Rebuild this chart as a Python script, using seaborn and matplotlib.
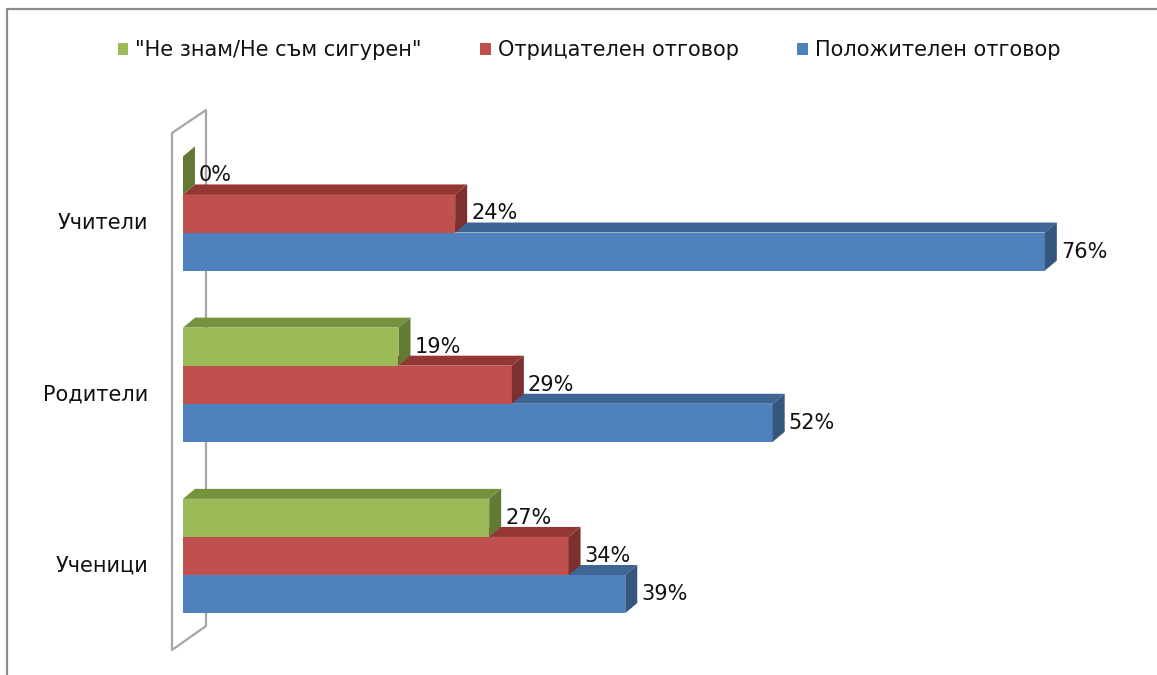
import numpy as np
import pandas as pd
import matplotlib
matplotlib.use("Agg")
import matplotlib.pyplot as plt
import seaborn as sns
from matplotlib.patches import Polygon
from matplotlib.lines import Line2D
import matplotlib.transforms as mtransforms

# ---- data ----
groups = ["Учители", "Родители", "Ученици"]
series = ['"Не знам/Не съм сигурен"', "Отрицателен отговор", "Положителен отговор"]
unsure = [0, 19, 27]
negative = [24, 29, 34]
positive = [76, 52, 39]

front_colors = ["#9BBB59", "#C0504D", "#4F81BD"]
top_colors = ["#76923C", "#943634", "#3E6594"]
side_colors = ["#637A35", "#7E302E", "#34567F"]

df = pd.DataFrame({
    "group": groups * 3,
    "series": np.repeat(series, 3),
    "value": unsure + negative + positive,
})

sns.set_theme(style="white")
plt.rcParams["font.family"] = ["DejaVu Sans"]
plt.rcParams["text.color"] = "#111111"

W, H = 1157, 675
fig = plt.figure(figsize=(W / 100, H / 100), dpi=100)
x0px, pxper, xmax = 183, 11.34, 85
top_px, bot_px = 93.6, 667.3
ax = fig.add_axes([x0px / W, 1 - bot_px / H, xmax * pxper / W, (bot_px - top_px) / H])
ax.patch.set_visible(False)

sns.barplot(data=df, y="group", x="value", hue="series", order=groups,
            hue_order=series, palette=front_colors, orient="h", width=0.667,
            gap=0, saturation=1, ax=ax, legend=True, edgecolor="none",
            linewidth=0, errorbar=None)
ax.set_xlim(0, xmax)
ax.set_ylim(2.65, -0.7)
ax.set_xticks([])
ax.set_yticks([])
ax.set_xlabel("")
ax.set_ylabel("")
sns.despine(ax=ax, left=True, bottom=True)

# ---- pseudo-3D depth faces ----
dx, dy = 12, 10
inv = ax.transData.inverted()
for i, cont in enumerate(ax.containers):
    z = 4 - i
    for bar in cont:
        bar.set_zorder(z)
        x, y, w, h = bar.get_x(), bar.get_y(), bar.get_width(), bar.get_height()
        tl, tr, br = ax.transData.transform([[x, y], [x + w, y], [x + w, y + h]])
        off = np.array([dx, dy])
        top = inv.transform([tl, tr, tr + off, tl + off])
        side = inv.transform([tr, br, br + off, tr + off])
        ax.add_patch(Polygon(top, closed=True, facecolor=top_colors[i],
                             edgecolor="none", zorder=z, clip_on=False))
        ax.add_patch(Polygon(side, closed=True, facecolor=side_colors[i],
                             edgecolor="none", zorder=z, clip_on=False))
    ax.bar_label(cont, labels=[f"{v:.0f}%" for v in cont.datavalues],
                 padding=11.5, fontsize=15, color="#111111", zorder=10)

# ---- category labels ----
for i, g in enumerate(groups):
    tr = ax.transData + mtransforms.ScaledTranslation(-35 / 100, -9.5 / 100, fig.dpi_scale_trans)
    ax.text(0, i, g, transform=tr, ha="right", va="center", fontsize=15, color="#111111")

# ---- side wall outline ----
wall_px = [(172, 133), (206, 110), (206, 626), (172, 650), (172, 133)]
wx = [p[0] / W for p in wall_px]
wy = [1 - p[1] / H for p in wall_px]
wall = Line2D(wx, wy, transform=fig.transFigure, color="#A6A6A6", lw=1.6, zorder=1)
ax.add_artist(wall)
wall.set_clip_on(False)

# ---- outer frame ----
fig.add_artist(Line2D([7 / W, 7 / W, 1], [0, 1 - 9 / H, 1 - 9 / H],
                      transform=fig.transFigure, color="#8C8C8C", lw=1.6))

# ---- legend ----
leg = ax.get_legend()
handles = leg.legend_handles
labels = [t.get_text() for t in leg.get_texts()]
leg.remove()
fig.legend(handles, labels, loc="center", bbox_to_anchor=(589 / W, 1 - 50 / H),
           ncol=3, frameon=False, fontsize=15, handlelength=0.5,
           handleheight=0.5, handletextpad=0.35, columnspacing=2.8,
           labelcolor="#111111")

fig.savefig("out.png", dpi=100)
